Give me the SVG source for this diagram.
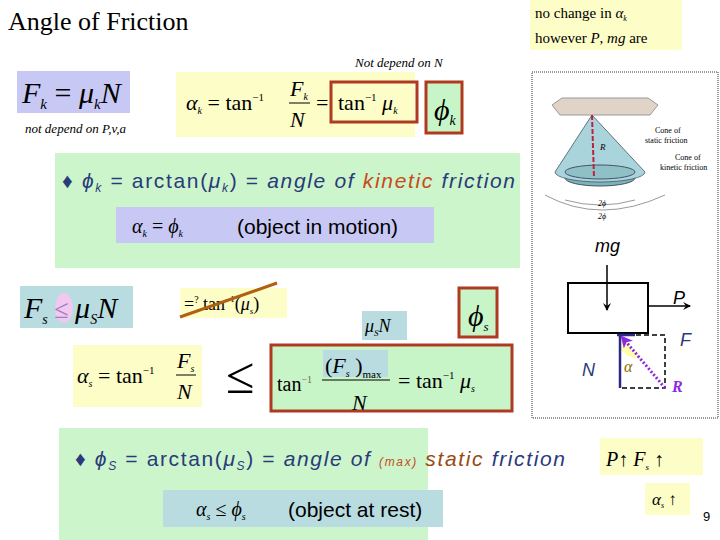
<svg xmlns="http://www.w3.org/2000/svg" width="720" height="540" viewBox="0 0 720 540">
<style>
.s{font-family:"Liberation Serif",serif}
.a{font-family:"Liberation Sans",sans-serif}
.i{font-style:italic}
.m{font-family:"Liberation Serif",serif;font-style:italic}
</style>
<defs>
<marker id="ab" markerWidth="8" markerHeight="8" refX="7" refY="4" orient="auto" markerUnits="userSpaceOnUse"><path d="M0,0L8,4L0,8L3,4Z" fill="#000"/></marker>
<marker id="ap" markerWidth="12" markerHeight="12" refX="10" refY="6" orient="auto" markerUnits="userSpaceOnUse"><path d="M0,0L12,6L0,12L3,6Z" fill="#8a2be2"/></marker>
</defs>
<rect width="720" height="540" fill="#fff"/>
<g id="title"><text x="8" y="30" class="s" font-size="26">Angle of Friction</text></g>
<g id="note-top">
<rect x="530" y="0" width="152" height="50" fill="#fdfdc8"/>
<text x="535" y="18" class="s" font-size="15">no change in <tspan class="i">α</tspan><tspan class="i" font-size="8" dy="3">k</tspan></text>
<text x="535" y="43" class="s" font-size="15">however  <tspan class="i">P</tspan>,  <tspan class="i">mg</tspan>   are</text>
</g>
<g id="notN"><text x="355" y="67" class="s i" font-size="13">Not depend on N</text></g>
<g id="fk">
<rect x="17" y="71" width="113" height="42" fill="#c8c8f5"/>
<text x="22" y="103" class="m" font-size="30">F<tspan font-size="15" dy="6">k</tspan><tspan dy="-6" font-style="normal"> = </tspan>μ<tspan font-size="15" dy="6">k</tspan><tspan dy="-6">N</tspan></text>
<text x="25" y="133" class="s i" font-size="13">not depend on  P,v,a</text>
</g>
<g id="alphak">
<rect x="176" y="72" width="239" height="65" fill="#fdfdc8"/>
<text x="186" y="110" class="s" font-size="22"><tspan class="i">α</tspan><tspan class="i" font-size="10" dy="4">k</tspan><tspan dy="-4"> = tan</tspan><tspan font-size="11" dy="-9">−1</tspan></text>
<text x="290" y="96" class="m" font-size="22">F<tspan font-size="10" dy="4">k</tspan></text>
<line x1="289" y1="103" x2="310" y2="103" stroke="#000" stroke-width="1"/>
<text x="290" y="127" class="m" font-size="22">N</text>
<text x="316" y="110" class="s" font-size="22">=</text>
<rect x="331" y="82" width="86" height="40" fill="none" stroke="#b03a20" stroke-width="3"/>
<text x="338" y="110" class="s" font-size="22">tan<tspan font-size="11" dy="-9">−1</tspan><tspan class="i" dy="9"> μ</tspan><tspan class="i" font-size="10" dy="4">k</tspan></text>
<rect x="426" y="82" width="36" height="51" fill="#c8f5c8" stroke="#b03a20" stroke-width="3"/>
<text x="434" y="120" class="m" font-size="30">ϕ<tspan font-size="14" dy="5">k</tspan></text>
</g>
<g id="kinetic">
<rect x="55" y="153" width="465" height="115" fill="#ccf5cc"/>
<text x="62" y="188" class="a" font-size="21" fill="#2a3a7a" textLength="453">♦ <tspan class="i">ϕ</tspan><tspan class="i" font-size="12" dy="4">k</tspan><tspan dy="-4">  = arctan(</tspan><tspan class="i">μ</tspan><tspan class="i" font-size="12" dy="4">k</tspan><tspan dy="-4">) =  </tspan><tspan class="i">angle of </tspan><tspan class="i" fill="#c84a1a">kinetic</tspan><tspan class="i"> friction</tspan></text>
<rect x="116" y="207" width="318" height="36" fill="#c8c8f5"/>
<text x="132" y="233" class="s" font-size="20"><tspan class="i">α</tspan><tspan class="i" font-size="10" dy="4">k</tspan><tspan dy="-4"> = </tspan><tspan class="i">ϕ</tspan><tspan class="i" font-size="10" dy="4">k</tspan></text>
<text x="237" y="234" class="a" font-size="21">(object in motion)</text>
</g>
<g id="panel">
<rect x="532" y="72" width="186" height="346" fill="#fff" stroke="#333" stroke-width="1" stroke-dasharray="1,1"/>
<polygon points="552,105 562,98 648,98 658,105 650,115 560,115" fill="#e0d4c8" stroke="#999"/>
<ellipse cx="600" cy="178" rx="35" ry="8" fill="#7fb2bb" stroke="#456"/>
<rect x="565" y="172" width="70" height="6" fill="#7fb2bb"/>
<path d="M592,115 L555,172 A45,10 0 0 0 645,172 Z" fill="#aad4dc" stroke="#456" stroke-width="0.8"/>
<ellipse cx="600" cy="172" rx="35" ry="7" fill="#8fc0c8" stroke="#456"/>
<line x1="592" y1="115" x2="594" y2="178" stroke="#c02040" stroke-width="2" stroke-dasharray="5,2"/>
<text x="600" y="150" class="m" font-size="9">R</text>
<text x="655" y="133" class="s" font-size="8">Cone of</text>
<text x="645" y="143" class="s" font-size="8">static friction</text>
<text x="675" y="160" class="s" font-size="8">Cone of</text>
<text x="660" y="170" class="s" font-size="8">kinetic friction</text>
<path d="M565,200 Q600,210 635,200" fill="none" stroke="#555" stroke-width="0.6"/>
<path d="M545,195 Q600,225 665,195" fill="none" stroke="#555" stroke-width="0.6"/>
<text x="598" y="206" class="s i" font-size="8">2ϕ</text>
<text x="598" y="219" class="s i" font-size="8">2ϕ</text>
<text x="595" y="252" class="a i" font-size="18">mg</text>
<rect x="568" y="283" width="80" height="50" fill="#fff" stroke="#000" stroke-width="2"/>
<line x1="607" y1="265" x2="607" y2="310" stroke="#000" stroke-width="1.5" marker-end="url(#ab)"/>
<line x1="648" y1="306" x2="690" y2="306" stroke="#000" stroke-width="1.5" marker-end="url(#ab)"/>
<text x="673" y="304" class="a i" font-size="18">P</text>
<text x="680" y="346" class="a i" font-size="18" fill="#2a3a7a">F</text>
<path d="M619,346 A20,20 0 0 0 641,358 L620,335 Z" fill="#ffffb0"/>
<polyline points="620,335 665,335 665,388 620,388" fill="none" stroke="#000" stroke-width="1.5" stroke-dasharray="5,3"/>
<polyline points="620,388 620,335" fill="none" stroke="#2a2a8a" stroke-width="2.5"/>
<line x1="617" y1="335" x2="635" y2="335" stroke="#2a2a8a" stroke-width="2.5"/>
<text x="624" y="372" class="m" font-size="16" fill="#8a6a00">α</text>
<line x1="665" y1="388" x2="622" y2="337" stroke="#8a2be2" stroke-width="3" stroke-dasharray="2,2" marker-end="url(#ap)"/>
<text x="582" y="376" class="a i" font-size="18" fill="#2a3a7a">N</text>
<text x="672" y="392" class="s i" font-size="16" font-weight="bold" fill="#8a2be2">R</text>
</g>
<g id="fs">
<rect x="20" y="286" width="113" height="42" fill="#b8dce0"/>
<ellipse cx="64" cy="308" rx="9" ry="15" fill="#f0c8f0"/>
<text x="24" y="318" class="m" font-size="30">F<tspan font-size="14" dy="6">s</tspan><tspan dy="-6" font-style="normal" fill="#a080c0" font-size="26"> ≤ </tspan>μ<tspan font-size="14" dy="6">S</tspan><tspan dy="-6">N</tspan></text>
</g>
<g id="crossed">
<rect x="180" y="288" width="107" height="30" fill="#fdfdc8"/>
<text x="184" y="310" class="s" font-size="18">=<tspan font-size="10" dy="-7">?</tspan><tspan dy="7"> tan</tspan><tspan font-size="9" dy="-8">−1</tspan><tspan dy="8">(</tspan><tspan class="i">μ</tspan><tspan class="i" font-size="9" dy="4">s</tspan><tspan dy="-4">)</tspan></text>
<line x1="180" y1="317" x2="277" y2="283" stroke="#b06010" stroke-width="3"/>
</g>
<g id="musn">
<rect x="362" y="311" width="45" height="29" fill="#b8dce0"/>
<text x="365" y="332" class="m" font-size="18">μ<tspan font-size="9" dy="4">S</tspan><tspan dy="-4">N</tspan></text>
</g>
<g id="phis">
<rect x="459" y="288" width="38" height="49" fill="#c8f5c8" stroke="#b03a20" stroke-width="3"/>
<text x="468" y="326" class="m" font-size="30">ϕ<tspan font-size="13" dy="5">s</tspan></text>
</g>
<g id="alphas">
<rect x="73" y="345" width="129" height="62" fill="#fdfdc8"/>
<text x="77" y="383" class="s" font-size="22"><tspan class="i">α</tspan><tspan class="i" font-size="10" dy="4">s</tspan><tspan dy="-4"> = tan</tspan><tspan font-size="11" dy="-9">−1</tspan></text>
<text x="177" y="368" class="m" font-size="22">F<tspan font-size="10" dy="4">s</tspan></text>
<line x1="176" y1="375" x2="196" y2="375" stroke="#000"/>
<text x="177" y="399" class="m" font-size="22">N</text>
</g>
<g id="leq"><text x="226" y="393" class="s" font-size="52">≤</text></g>
<g id="maxbox">
<rect x="271" y="345" width="241" height="66" fill="#c8f5c8" stroke="#b03a20" stroke-width="3"/>
<rect x="323" y="350" width="65" height="27" fill="#b8dce0"/>
<text x="277" y="391" class="s" font-size="20">tan<tspan font-size="10" dy="-8" fill="#666">−1</tspan></text>
<text x="325" y="373" class="s" font-size="22">(<tspan class="i">F</tspan><tspan class="i" font-size="10" dy="4">s</tspan><tspan dy="-4"> )</tspan><tspan font-size="11" dy="5">max</tspan></text>
<line x1="322" y1="380" x2="390" y2="380" stroke="#000"/>
<text x="352" y="410" class="m" font-size="22">N</text>
<text x="398" y="388" class="s" font-size="22">= tan<tspan font-size="11" dy="-9">−1</tspan><tspan class="i" dy="9"> μ</tspan><tspan class="i" font-size="10" dy="4">s</tspan></text>
</g>
<g id="static">
<rect x="59" y="428" width="369" height="112" fill="#ccf5cc"/>
<text x="75" y="466" class="a" font-size="21" fill="#2a3a7a" textLength="490">♦ <tspan class="i">ϕ</tspan><tspan class="i" font-size="12" dy="4">S</tspan><tspan dy="-4">  = arctan(</tspan><tspan class="i">μ</tspan><tspan class="i" font-size="12" dy="4">S</tspan><tspan dy="-4">) =  </tspan><tspan class="i">angle of </tspan><tspan class="i" font-size="12" fill="#c84a1a">(max)</tspan><tspan class="i" fill="#9a4a10"> static</tspan><tspan class="i"> friction</tspan></text>
<rect x="163" y="490" width="280" height="37" fill="#b8dce0"/>
<text x="196" y="516" class="s" font-size="20"><tspan class="i">α</tspan><tspan class="i" font-size="10" dy="4">s</tspan><tspan dy="-4"> ≤ </tspan><tspan class="i">ϕ</tspan><tspan class="i" font-size="10" dy="4">s</tspan></text>
<text x="288" y="517" class="a" font-size="21">(object at rest)</text>
</g>
<g id="arrows-note">
<rect x="600" y="438" width="103" height="37" fill="#fdfdc8"/>
<text x="606" y="466" class="s" font-size="20"><tspan class="i">P</tspan>↑  <tspan class="i">F</tspan><tspan class="i" font-size="9" dy="4">s</tspan><tspan dy="-4"> ↑</tspan></text>
<rect x="645" y="483" width="45" height="32" fill="#fdfdc8"/>
<text x="652" y="505" class="s" font-size="17"><tspan class="i">α</tspan><tspan class="i" font-size="8" dy="3">s</tspan><tspan dy="-3"> ↑</tspan></text>
<text x="703" y="521" class="a" font-size="13">9</text>
</g>
<g id="connectors"/>
</svg>
